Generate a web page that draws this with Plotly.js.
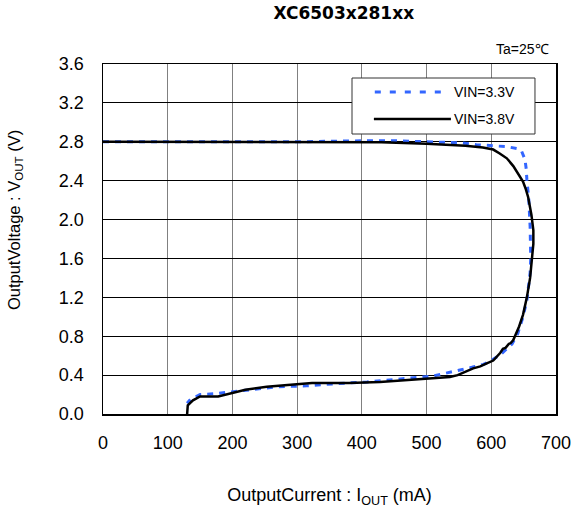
<!DOCTYPE html>
<html>
<head>
<meta charset="utf-8">
<script src="https://cdn.plot.ly/plotly-3.0.1.min.js"></script>
<style>html,body{margin:0;padding:0;background:#fff;}#chart{width:573px;height:508px;}</style>
</head>
<body>
<div id="chart"></div>
<script>
// Data
const seriesNames = ["VIN=3.3V", "VIN=3.8V"];

const vin33Current = [0,100,200,300,400,454,500,552,577,600,624,640,647,652,654,655,658,660,661,661,660,655,649,641,632,614,600,588,570,552,530,510,459,408,356,315,269,238,201,176,150,135,130];
const vin33Voltage = [2.8,2.8,2.8,2.8,2.81,2.81,2.8,2.79,2.77,2.76,2.75,2.73,2.70,2.62,2.52,2.41,2.2,1.93,1.75,1.6,1.45,1.17,1.0,0.83,0.72,0.61,0.55,0.51,0.48,0.45,0.42,0.39,0.36,0.33,0.31,0.29,0.28,0.26,0.23,0.21,0.2,0.15,0.11];

const vin38Current = [0,100,200,300,400,430,500,560,587,603,613,624,634,642,649,653,657,662,665,665,663,660,655,649,643,636,634,630,627,622,618,614,603,593,583,572,562,548,536,480,428,380,323,290,253,220,201,178,150,139,131,130];
const vin38Voltage = [2.8,2.8,2.8,2.8,2.8,2.795,2.78,2.76,2.74,2.72,2.68,2.63,2.55,2.46,2.39,2.32,2.23,2.05,1.89,1.75,1.6,1.4,1.2,1.02,0.9,0.8,0.76,0.73,0.72,0.68,0.67,0.63,0.55,0.52,0.49,0.47,0.44,0.4,0.38,0.35,0.33,0.32,0.32,0.30,0.28,0.25,0.22,0.18,0.18,0.14,0.09,0.0];

const xTicks = [0,100,200,300,400,500,600,700];
const yTicks = [0.0,0.4,0.8,1.2,1.6,2.0,2.4,2.8,3.2,3.6];

const xTitle = "OutputCurrent : I<sub>OUT</sub> (mA)";
const yTitle = "OutputVoltage : V<sub>OUT</sub> (V)";

const FONT = "Arial, 'Liberation Sans', sans-serif";

const traces = [
  {x: vin33Current, y: vin33Voltage, name: seriesNames[0], type: "scatter", mode: "lines",
   line: {color: "#3366ff", width: 3, dash: "6px,6px"}},
  {x: vin38Current, y: vin38Voltage, name: seriesNames[1], type: "scatter", mode: "lines",
   line: {color: "#000000", width: 2.5}}
];

const layout = {
  width: 573, height: 508,
  margin: {l: 103, r: 17, t: 64, b: 94},
  paper_bgcolor: "#ffffff", plot_bgcolor: "#ffffff",
  showlegend: false,
  font: {family: FONT, color: "#000", size: 16},
  title: {text: "<b>XC6503x281xx</b>", x: 0.6, xanchor: "center", y: 0.974, yanchor: "middle",
          font: {family: "'DejaVu Sans', Arial, sans-serif", size: 17, color: "#000"}},
  xaxis: {
    range: [0, 700], tickvals: xTicks, ticktext: xTicks.map(String),
    showgrid: true, gridcolor: "#808080", gridwidth: 1,
    showline: true, linecolor: "#000", linewidth: 1.5, mirror: true,
    ticks: "", zeroline: false, ticklabelstandoff: 12,
    tickfont: {family: FONT, size: 18, color: "#000"},
    title: {text: xTitle, standoff: 40, font: {family: FONT, size: 18, color: "#000"}}
  },
  yaxis: {
    range: [0, 3.6], tickvals: yTicks, ticktext: yTicks.map(v => v.toFixed(1)),
    showgrid: true, gridcolor: "#000000", gridwidth: 1,
    showline: true, linecolor: "#000", linewidth: 1.5, mirror: true,
    ticks: "", zeroline: false, ticklabelstandoff: 14,
    tickfont: {family: FONT, size: 18, color: "#000"}
  },
  shapes: [
    {type: "rect", xref: "paper", yref: "paper", x0: 0.5497, x1: 0.9536, y0: 0.80, y1: 0.96,
     line: {color: "#333", width: 1}, fillcolor: "#ffffff", layer: "above"},
    {type: "line", xref: "paper", yref: "paper", x0: 0.600, x1: 0.748, y0: 0.92, y1: 0.92,
     line: {color: "#3366ff", width: 3, dash: "6px,9px"}},
    {type: "line", xref: "paper", yref: "paper", x0: 0.598, x1: 0.768, y0: 0.843, y1: 0.843,
     line: {color: "#000", width: 2.5}}
  ],
  annotations: [
    {text: yTitle, xref: "paper", yref: "paper", x: -0.1943, y: 0.554, xanchor: "center", yanchor: "middle",
     textangle: -90, showarrow: false, font: {family: FONT, size: 16.5, color: "#000"}},
    {text: seriesNames[0], xref: "paper", yref: "paper", x: 0.770, y: 0.92, xanchor: "left", yanchor: "middle",
     showarrow: false, font: {family: FONT, size: 14, color: "#000"}},
    {text: seriesNames[1], xref: "paper", yref: "paper", x: 0.770, y: 0.843, xanchor: "left", yanchor: "middle",
     showarrow: false, font: {family: FONT, size: 14, color: "#000"}},
    {text: "Ta=25℃", xref: "paper", yref: "paper", x: 0.99, y: 1.043, xanchor: "right", yanchor: "middle",
     showarrow: false, font: {family: FONT, size: 14, color: "#000"}}
  ]
};

Plotly.newPlot("chart", traces, layout, {staticPlot: true, displayModeBar: false});
</script>
</body>
</html>
